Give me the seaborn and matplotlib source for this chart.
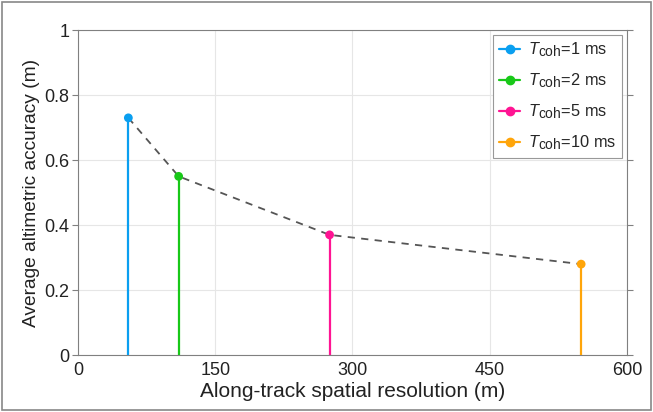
import numpy as np
import pandas as pd
import matplotlib
matplotlib.use("Agg")
import matplotlib.pyplot as plt
import matplotlib._mathtext as mathtext_internal
import seaborn as sns
from matplotlib.lines import Line2D
from matplotlib.legend_handler import HandlerLine2D
from matplotlib.patches import Rectangle

# data
resolution = [55, 110, 275, 550]
accuracy = [0.73, 0.55, 0.37, 0.28]
labels = ["1 ms", "2 ms", "5 ms", "10 ms"]
colors = ["#0a9ff0", "#18c818", "#ff1493", "#ffa50a"]

df = pd.DataFrame({"res": resolution, "acc": accuracy, "tcoh": labels})

sns.set_style("white")
plt.rcParams["font.family"] = ["Liberation Sans", "DejaVu Sans"]
plt.rcParams["mathtext.fontset"] = "custom"
plt.rcParams["mathtext.it"] = "Liberation Sans:italic"
plt.rcParams["mathtext.rm"] = "Liberation Sans"
# MATLAB subscripts are bigger than matplotlib's default 70%
mathtext_internal.SHRINK_FACTOR = 0.85


class MarkerAtEnd(HandlerLine2D):
    # MATLAB-style stem legend: marker at the right end of the line
    def get_xdata(self, legend, xdescent, ydescent, width, height, fontsize):
        xdata = np.array([-xdescent, -xdescent + width])
        return xdata, np.array([-xdescent + width])


fig = plt.figure(figsize=(6.53, 4.12), dpi=100)
ax = fig.add_axes([0.1195, 0.138, 0.8405, 0.789])

sns.lineplot(data=df, x="res", y="acc", ax=ax, color="#555555",
             linestyle=(0, (4, 3.5)), linewidth=1.3, zorder=2)
ax.vlines(df["res"], 0, df["acc"], colors=colors, linewidth=1.6, zorder=3)
sns.scatterplot(data=df, x="res", y="acc", hue="tcoh", palette=colors,
                s=40, edgecolor="none", ax=ax, legend=False, zorder=4)

ax.set_xlim(0, 600)
ax.set_ylim(0, 1)
ax.set_xticks([0, 150, 300, 450, 600])
ax.set_yticks([0, 0.2, 0.4, 0.6, 0.8, 1])
ax.set_yticklabels(["0", "0.2", "0.4", "0.6", "0.8", "1"])
ax.grid(True, color="#e6e6e6", linewidth=0.8)
ax.set_axisbelow(True)
for s in ax.spines.values():
    s.set_color("#808080")
    s.set_linewidth(0.8)
ax.tick_params(axis="both", direction="out", length=4, width=0.8,
               color="#808080", labelsize=13, labelcolor="#222222",
               right=True, left=True, bottom=False, top=False, pad=2)
ax.tick_params(axis="x", length=0, pad=5)
ax.set_xlabel("Along-track spatial resolution (m)", fontsize=15, color="#222222", labelpad=2)
ax.set_ylabel("Average altimetric accuracy (m)", fontsize=13.8, color="#222222", labelpad=3)

handles = [Line2D([0], [0], color=c, linewidth=1.6, marker="o", markersize=6)
           for c in colors]
leg_labels = [r"$\it{T}_{\rm coh}$=" + l for l in labels]
leg = ax.legend(handles, leg_labels, loc="upper right", fontsize=11.8,
                handlelength=1.3, handletextpad=0.45, labelspacing=0.75,
                borderpad=0.35, borderaxespad=0, fancybox=False, framealpha=1,
                handler_map={Line2D: MarkerAtEnd(numpoints=1)},
                bbox_to_anchor=(0.991, 0.985))
leg.get_frame().set_edgecolor("#999999")
leg.get_frame().set_linewidth(0.8)

# outer frame around the whole figure
fig.patches.append(Rectangle((0.003, 0.004), 0.994, 0.992, transform=fig.transFigure,
                             fill=False, edgecolor="#888888", linewidth=1.2))

fig.savefig("out.png", dpi=100)
